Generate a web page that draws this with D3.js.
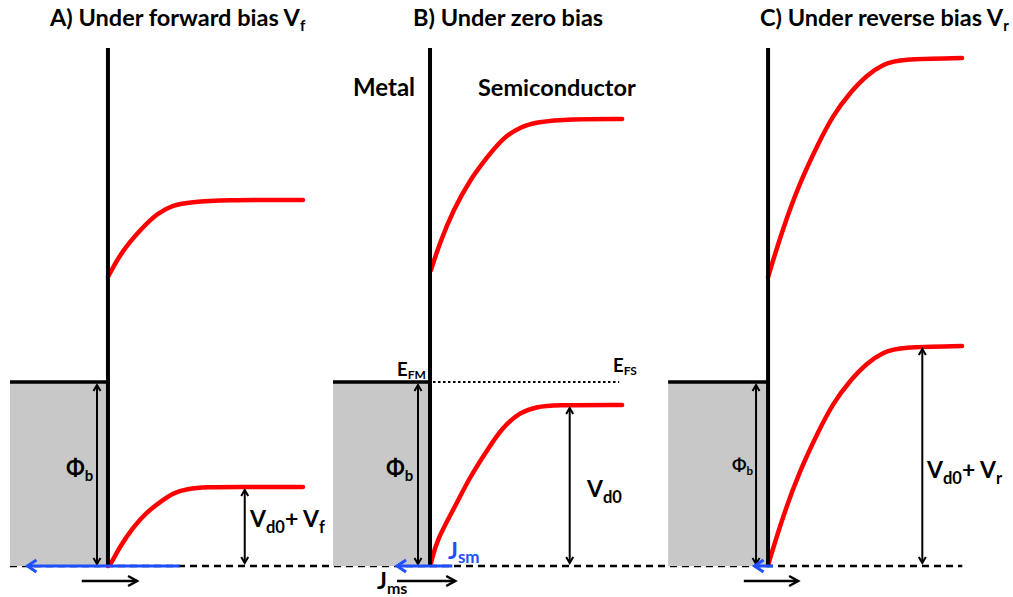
<!DOCTYPE html>
<html><head><meta charset="utf-8">
<script src="https://cdn.jsdelivr.net/npm/d3@7"></script>
<style>body{margin:0;background:#fff}svg{display:block}</style>
</head><body><svg id="c" width="1013" height="597"></svg>
<script>
// ---------- data (energies in eV-like units, distances in diagram units) ----------
const panels      = ["A", "B", "C"];
const titleMain   = ["A) Under forward bias V", "B) Under zero bias", "C) Under reverse bias V"];
const titleSub    = ["f", "", "r"];
const interfaceAt = [1.113, 4.433, 7.918];   // metal/semiconductor interface
const metalDepth  = [1.01, 1.00, 1.03];
const fermiMetal  = [1.84, 1.84, 1.84];      // metal Fermi level = barrier phi_b
const bandTop     = 5.18;
const bendLevel   = [0.79, 1.61, 2.20];      // Vd0+Vf, Vd0, Vd0+Vr
const bendLabel   = [["V","d0","+ V","f"], ["V","d0"], ["V","d0","+ V","r"]];
const phiSmall    = [false, false, true];
const jsm         = [[0.74, -0.83], [0.23, -0.34], [0.05, -0.14]];   // blue arrow span
const jms         = [[-0.27, 0.30], [-0.34, 0.26], [-0.25, 0.31]];   // black arrow span

const lowerBand = [
  [[0,0],[0.03,0.02],[0.12,0.19],[0.26,0.39],[0.40,0.54],[0.54,0.64],[0.67,0.73],[0.81,0.77],[1.02,0.79],[1.29,0.79],[2.01,0.79]],
  [[0.01,0.03],[0.07,0.26],[0.24,0.56],[0.41,0.89],[0.59,1.16],[0.75,1.39],[0.93,1.54],[1.10,1.59],[1.26,1.61],[1.98,1.61]],
  [[0,0.01],[0.15,0.49],[0.33,0.96],[0.51,1.33],[0.67,1.63],[0.85,1.86],[1.02,2.03],[1.19,2.14],[1.36,2.19],[2.0,2.20]]
];
const upperBand = [
  [[0,2.89],[0.13,3.13],[0.33,3.36],[0.51,3.53],[0.67,3.61],[0.85,3.64],[1.19,3.66],[2.01,3.66]],
  [[0.01,2.96],[0.10,3.23],[0.24,3.56],[0.41,3.86],[0.59,4.09],[0.75,4.28],[0.93,4.39],[1.10,4.44],[1.44,4.47],[1.98,4.47]],
  [[0,2.89],[0.15,3.37],[0.33,3.84],[0.51,4.21],[0.67,4.51],[0.85,4.74],[1.02,4.91],[1.19,5.02],[1.36,5.07],[2.0,5.08]]
];

// ---------- layout ----------
const layout = {
  phiArrowAt: [-0.113, -0.124, -0.124],
  bendArrowAt: [1.41, 1.44, 1.59],
  titleX: [50, 413, 760], titleY: 26,
  phiLabel: [[66,476],[386,476],[732,471]],
  bendLabelPos: [[250,527],[587,497],[927,478]],
  baseFrom: 0.103, baseTo: 9.92, jmsLevel: -0.15
};

const W = 1013, H = 597;
const x = d3.scaleLinear().domain([0, 10.443]).range([0, W]);
const y = d3.scaleLinear().domain([0, 5.2]).range([566, 46]);
const svg = d3.select("#c");
const FONT = "Lato, 'Open Sans', sans-serif";

// markers
const defs = svg.append("defs");
function marker(id, color, len, half, sw) {
  defs.append("marker").attr("id", id).attr("markerUnits", "userSpaceOnUse")
    .attr("viewBox", `${-len-3} ${-half-3} ${len+6} ${2*half+6}`)
    .attr("markerWidth", len+6).attr("markerHeight", 2*half+6)
    .attr("refX", 0).attr("refY", 0).attr("orient", "auto-start-reverse")
    .append("path").attr("d", `M${-len},${-half} L0,0 L${-len},${half}`)
    .attr("fill", "none").attr("stroke", color).attr("stroke-width", sw)
    .attr("stroke-linejoin", "miter").attr("stroke-linecap", "butt");
}
marker("vArrow", "#000", 6, 3.5, 2);
marker("hArrow", "#000", 9, 5, 2.5);
marker("bArrow", "#1f4fff", 9, 6, 3);

function label(px, py, parts, size, subSize, subDy, color) {
  const t = svg.append("text").attr("x", px).attr("y", py)
    .attr("font-family", FONT).attr("font-weight", 700).attr("fill", color || "#000")
    .attr("font-size", size);
  let sub = false;
  parts.forEach((p, i) => {
    const isSub = i % 2 === 1;
    const dy = isSub ? subDy : (sub ? -subDy : 0);
    t.append("tspan").attr("dy", dy).attr("font-size", isSub ? subSize : size)
      .style("white-space", "pre").text(p);
    sub = isSub;
  });
  return t;
}

const line = d3.line().curve(d3.curveBasis);

// baseline
svg.append("line").attr("x1", x(layout.baseFrom)).attr("x2", x(layout.baseTo))
  .attr("y1", y(0)).attr("y2", y(0)).attr("stroke", "#000").attr("stroke-width", 2.5)
  .attr("stroke-dasharray", "7,5");

panels.forEach((p, i) => {
  const xi = interfaceAt[i];
  const g = svg.append("g");
  g.append("rect").attr("x", x(xi - metalDepth[i])).attr("y", y(fermiMetal[i]))
    .attr("width", x(xi) - x(xi - metalDepth[i])).attr("height", y(0) - y(fermiMetal[i]))
    .attr("fill", "#c8c8c8");
  g.append("line").attr("x1", x(xi - metalDepth[i])).attr("x2", x(xi))
    .attr("y1", y(fermiMetal[i])).attr("y2", y(fermiMetal[i]))
    .attr("stroke", "#000").attr("stroke-width", 3.5);
  [lowerBand[i], upperBand[i]].forEach(b => {
    g.append("path").attr("d", line(b.map(d => [x(xi + d[0]), y(d[1])])))
      .attr("fill", "none").attr("stroke", "#ff0000").attr("stroke-width", 4.5)
      .attr("stroke-linecap", "round");
  });
  g.append("line").attr("x1", x(xi)).attr("x2", x(xi)).attr("y1", y(bandTop)).attr("y2", y(0))
    .attr("stroke", "#000").attr("stroke-width", 4);
  g.append("line").attr("x1", x(xi + layout.phiArrowAt[i])).attr("x2", x(xi + layout.phiArrowAt[i]))
    .attr("y1", y(fermiMetal[i]) + 3).attr("y2", y(0) - 2)
    .attr("stroke", "#000").attr("stroke-width", 2)
    .attr("marker-start", "url(#vArrow)").attr("marker-end", "url(#vArrow)");
  g.append("line").attr("x1", x(xi + layout.bendArrowAt[i])).attr("x2", x(xi + layout.bendArrowAt[i]))
    .attr("y1", y(bendLevel[i]) + 3).attr("y2", y(0) - 3)
    .attr("stroke", "#000").attr("stroke-width", 2)
    .attr("marker-start", "url(#vArrow)").attr("marker-end", "url(#vArrow)");
  g.append("line").attr("x1", x(xi + jsm[i][0])).attr("x2", x(xi + jsm[i][1]))
    .attr("y1", y(0)).attr("y2", y(0)).attr("stroke", "#1f4fff").attr("stroke-width", 3)
    .attr("marker-end", "url(#bArrow)");
  g.append("line").attr("x1", x(xi + jms[i][0])).attr("x2", x(xi + jms[i][1]))
    .attr("y1", y(layout.jmsLevel)).attr("y2", y(layout.jmsLevel))
    .attr("stroke", "#000").attr("stroke-width", 2.5).attr("marker-end", "url(#hArrow)");

  label(layout.titleX[i], layout.titleY, titleSub[i] ? [titleMain[i], titleSub[i]] : [titleMain[i]], 23.5, 15, 5);
  const sz = phiSmall[i] ? 17 : 22;
  label(layout.phiLabel[i][0], layout.phiLabel[i][1], ["\u03A6", "b"], sz, sz*0.68, sz*0.22);
  label(layout.bendLabelPos[i][0], layout.bendLabelPos[i][1], bendLabel[i], 23, 16.5, 6);
});

svg.append("line").attr("x1", x(interfaceAt[1]) + 3).attr("x2", x(interfaceAt[1] + 1.95))
  .attr("y1", y(fermiMetal[1])).attr("y2", y(fermiMetal[1]))
  .attr("stroke", "#000").attr("stroke-width", 2).attr("stroke-dasharray", "2.5,2.5");

label(397, 376, ["E", "FM"], 18.5, 12, 3);
label(613, 372, ["E", "FS"], 18.5, 12, 3);
label(353, 96, ["Metal"], 24, 15, 5);
label(478, 96, ["Semiconductor"], 23.5, 15, 5);
label(448, 559, ["J", "sm"], 23, 17, 4, "#1f4fff");
label(377, 589, ["J", "ms"], 23, 16, 5);
</script></body></html>
